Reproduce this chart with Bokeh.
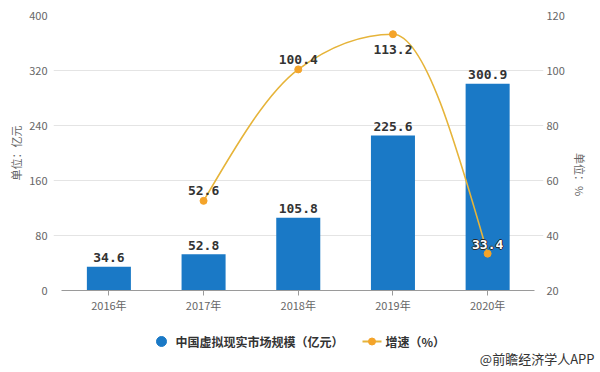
import math
from bokeh.plotting import figure
from bokeh.layouts import column
from bokeh.models import Range1d, LinearAxis, FixedTicker, ColumnDataSource
from bokeh.core.properties import value
from bokeh.embed import file_html
from bokeh.resources import INLINE

# ---------------- data ----------------
years = ["2016年", "2017年", "2018年", "2019年", "2020年"]
market = [34.6, 52.8, 105.8, 225.6, 300.9]          # 亿元
growth_years = ["2017年", "2018年", "2019年", "2020年"]
growth = [52.6, 100.4, 113.2, 33.4]                   # %
left_ticks = [0, 80, 160, 240, 320, 400]
right_ticks = [20, 40, 60, 80, 100, 120]
bar_name = "中国虚拟现实市场规模（亿元）"
line_name = "增速（%）"
source_note = "@前瞻经济学人APP"

# ---------------- style ----------------
BLUE = "#1a79c6"
GOLD = "#e6b43a"
ORANGE = "#f4a42a"
GRID = "#e4e4e4"
TICK_TXT = "#666666"
VAL_TXT = "#333333"
CJK = "Noto Sans CJK SC"
MONO = "DejaVu Sans Mono"

W, H = 600, 318
BL, BR, BT, BB = 53, 57, 15, 28
X0, X1 = -0.585, 4.59
L0, L1 = 0, 400
R0, R1 = 20, 120

p = figure(width=W, height=H, output_backend="svg", toolbar_location=None,
           x_range=Range1d(X0, X1), y_range=Range1d(L0, L1),
           min_border_left=BL, min_border_right=BR, min_border_top=BT,
           min_border_bottom=BB, background_fill_color="white",
           border_fill_color="white")
p.frame_align = False
p.extra_y_ranges = {"pct": Range1d(R0, R1)}
p.outline_line_color = None
p.xgrid.visible = False
p.ygrid.ticker = FixedTicker(ticks=left_ticks)
p.ygrid.grid_line_color = GRID
p.ygrid.grid_line_width = 1

xs = list(range(len(years)))
gx = [years.index(y) for y in growth_years]

# x axis
xa = p.xaxis[0]
xa.ticker = FixedTicker(ticks=xs)
xa.major_label_overrides = {i: y for i, y in zip(xs, years)}
xa.bounds = (-0.5, len(years) - 0.5)
xa.axis_line_color = "#9a9a9a"
xa.major_tick_line_color = "#9a9a9a"
xa.major_tick_out = 5
xa.major_tick_in = 0
xa.minor_tick_line_color = None
xa.major_label_standoff = 1
xa.major_label_text_font = CJK
xa.major_label_text_font_size = "11px"
xa.major_label_text_color = TICK_TXT

# left y axis
ya = p.yaxis[0]
ya.ticker = FixedTicker(ticks=left_ticks)
ya.axis_line_color = None
ya.major_tick_line_color = None
ya.major_tick_out = 0
ya.major_tick_in = 0
ya.minor_tick_line_color = None
ya.major_label_standoff = 6
ya.major_label_text_font = CJK
ya.major_label_text_font_size = "11px"
ya.major_label_text_color = TICK_TXT
ya.axis_label = "单位：亿元"
ya.axis_label_text_font = CJK
ya.axis_label_text_font_size = "11px"
ya.axis_label_text_font_style = "normal"
ya.axis_label_text_color = TICK_TXT
ya.axis_label_standoff = 2

# right y axis
ra = LinearAxis(y_range_name="pct", ticker=FixedTicker(ticks=right_ticks))
ra.axis_line_color = None
ra.major_tick_line_color = None
ra.major_tick_out = 0
ra.major_tick_in = 0
ra.minor_tick_line_color = None
ra.major_label_standoff = 3
ra.major_label_text_font = CJK
ra.major_label_text_font_size = "11px"
ra.major_label_text_color = TICK_TXT
ra.axis_label = "单位：%"
ra.axis_label_orientation = -math.pi / 2
ra.axis_label_text_font = CJK
ra.axis_label_text_font_size = "11px"
ra.axis_label_text_font_style = "normal"
ra.axis_label_text_color = TICK_TXT
ra.axis_label_standoff = 12
p.add_layout(ra, "right")

# bars
bar_src = ColumnDataSource(dict(x=xs, top=market, lbl=[f"{v:.1f}" for v in market]))
p.vbar(x="x", top="top", width=0.465, source=bar_src, fill_color=BLUE, line_color=None)
p.text(x="x", y="top", text="lbl", source=bar_src, text_align="center",
       text_baseline="alphabetic", y_offset=-9, text_font=value(MONO),
       text_font_size="13px", text_font_style="bold", text_color=VAL_TXT)

# monotone cubic (d3 curveMonotoneX) smooth curve through the growth points
def _sign(v):
    return (v > 0) - (v < 0)

n = len(gx)
sl = [(growth[i + 1] - growth[i]) / (gx[i + 1] - gx[i]) for i in range(n - 1)]
tan = [0.0] * n
for i in range(1, n - 1):
    h0, h1 = gx[i] - gx[i - 1], gx[i + 1] - gx[i]
    s0, s1 = sl[i - 1], sl[i]
    pp = (s0 * h1 + s1 * h0) / (h0 + h1)
    tan[i] = (_sign(s0) + _sign(s1)) * min(abs(s0), abs(s1), 0.5 * abs(pp))
tan[0] = (3 * sl[0] - tan[1]) / 2
tan[-1] = (3 * sl[-1] - tan[-2]) / 2
bz = dict(x0=[], y0=[], x1=[], y1=[], cx0=[], cy0=[], cx1=[], cy1=[])
for i in range(n - 1):
    h = gx[i + 1] - gx[i]
    bz["x0"].append(gx[i]); bz["y0"].append(growth[i])
    bz["x1"].append(gx[i + 1]); bz["y1"].append(growth[i + 1])
    bz["cx0"].append(gx[i] + h / 3); bz["cy0"].append(growth[i] + tan[i] * h / 3)
    bz["cx1"].append(gx[i + 1] - h / 3); bz["cy1"].append(growth[i + 1] - tan[i + 1] * h / 3)
p.bezier(x0="x0", y0="y0", x1="x1", y1="y1", cx0="cx0", cy0="cy0", cx1="cx1",
         cy1="cy1", source=ColumnDataSource(bz), line_color=GOLD, line_width=1.6,
         y_range_name="pct")
p.scatter(gx, growth, size=7, fill_color=ORANGE, line_color=ORANGE, y_range_name="pct")

# growth labels
gmax = max(growth)
imax = growth.index(gmax)
il = n - 1
normal_i = [i for i in range(n) if i not in (imax, il)]
lab_src = ColumnDataSource(dict(
    x=[gx[i] for i in normal_i], y=[growth[i] for i in normal_i],
    lbl=[f"{growth[i]:.1f}" for i in normal_i]))
txt = dict(text_font=value(MONO), text_font_size="13px", text_font_style="bold",
           text_align="center", text_baseline="alphabetic", y_range_name="pct")
p.text(x="x", y="y", text="lbl", source=lab_src, y_offset=-10, text_color=VAL_TXT, **txt)
p.text(x=[gx[imax]], y=[gmax], text=[f"{gmax:.1f}"], y_offset=15, text_color=VAL_TXT, **txt)
# last label: white with dark outline (sits on the blue bar)
for dx, dy in [(-1, 0), (1, 0), (0, -1), (0, 1)]:
    p.text(x=[gx[il]], y=[growth[il]], text=[f"{growth[il]:.1f}"], x_offset=dx,
           y_offset=-9 + dy, text_color="#2a2a2a", **txt)
p.text(x=[gx[il]], y=[growth[il]], text=[f"{growth[il]:.1f}"], y_offset=-9,
       text_color="white", **txt)

# ---------------- legend strip (page pixels) ----------------
LH = 372 - H
q = figure(width=W, height=LH, output_backend="svg", toolbar_location=None,
           x_range=Range1d(0, W), y_range=Range1d(372, H),
           x_axis_type=None, y_axis_type=None,
           min_border=0, background_fill_color="white", border_fill_color="white")
q.frame_align = False
q.grid.visible = False
q.outline_line_color = None
LY = 341
q.scatter([161], [LY], size=10, fill_color=BLUE, line_color=BLUE)
q.text([175], [LY], text=[bar_name], text_font=value(CJK), text_font_size="12px",
       text_font_style="bold", text_color=VAL_TXT, text_baseline="middle")
q.segment([362], [LY], [381], [LY], line_color=GOLD, line_width=2)
q.scatter([371.5], [LY], size=7, fill_color=ORANGE, line_color=ORANGE)
q.text([385], [LY], text=[line_name], text_font=value(CJK), text_font_size="12px",
       text_font_style="bold", text_color=VAL_TXT, text_baseline="middle")
q.text([594], [358], text=[source_note], text_font=value(CJK), text_font_size="13px",
       text_color="#333333", text_align="right", text_baseline="middle")

layout = column(p, q, spacing=0)
open("out.html", "w").write(file_html(layout, INLINE))
